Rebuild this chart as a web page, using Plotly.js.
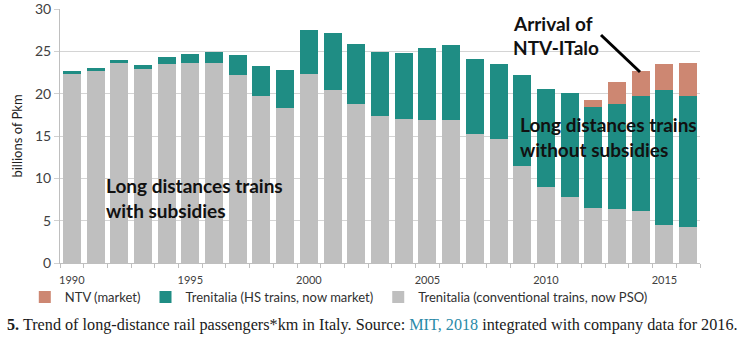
<!DOCTYPE html>
<html>
<head>
<meta charset="utf-8">
<script src="https://cdn.plot.ly/plotly-3.0.1.min.js"></script>
<style>html,body{margin:0;padding:0;background:#fff;}#chart{width:750px;height:350px;}</style>
</head>
<body>
<div id="chart"></div>
<script>
const years = [1990,1991,1992,1993,1994,1995,1996,1997,1998,1999,2000,2001,2002,2003,2004,2005,2006,2007,2008,2009,2010,2011,2012,2013,2014,2015,2016];
const conventional = [22.4,22.7,23.6,22.9,23.5,23.6,23.7,22.2,19.7,18.3,22.4,20.5,18.8,17.4,17.0,16.9,16.9,15.3,14.7,11.5,9.0,7.8,6.5,6.4,6.2,4.5,4.2];
const totalTrenitalia = [22.7,23.1,24.0,23.4,24.3,24.7,25.0,24.6,23.3,22.8,27.5,27.2,25.9,24.9,24.8,25.4,25.8,24.1,23.5,22.2,20.6,20.1,18.4,18.8,19.8,20.4,19.8];
const totalAll = [null,null,null,null,null,null,null,null,null,null,null,null,null,null,null,null,null,null,null,null,null,null,19.3,21.4,22.7,23.5,23.6];
const hsTrains = totalTrenitalia.map((t,i)=>+(t-conventional[i]).toFixed(2));
const ntv = totalAll.map((t,i)=> t===null ? 0 : +(t-totalTrenitalia[i]).toFixed(2));
const yTicks = [0,5,10,15,20,25,30];
const xLabelYears = [1990,1995,2000,2005,2010,2015];
const seriesNames = ['Trenitalia (conventional trains, now PSO)','Trenitalia (HS trains, now market)','NTV (market)'];

const font = 'Lato, "Open Sans", sans-serif';
const traces = [
  {type:'bar', x:years, y:conventional, name:seriesNames[0], marker:{color:'#bfbfbf'}},
  {type:'bar', x:years, y:hsTrains, name:seriesNames[1], marker:{color:'#1f8d84'}},
  {type:'bar', x:years, y:ntv, name:seriesNames[2], marker:{color:'#cd8772'}}
];
const bold = (s)=>'<b>'+s+'</b>';
const M = {l:60, r:50, t:9, b:87};
const PW = 750 - M.l - M.r, PH = 350 - M.t - M.b;
const layout = {
  width:750, height:350,
  margin:M,
  barmode:'stack', bargap:0.24,
  paper_bgcolor:'#fff', plot_bgcolor:'#fff',
  font:{family:font, color:'#404040'},
  xaxis:{
    range:[1989.5, 2016.5], tickmode:'array', tickvals:xLabelYears, ticktext:xLabelYears.map(String),
    ticks:'', showgrid:false, zeroline:false, showline:true, linecolor:'#bfbfbf', linewidth:1,
    tickfont:{size:11, color:'#404040'}, ticklabelstandoff:7,
    minor:{ticks:'outside', tick0:1989.5, dtick:1, ticklen:4, tickcolor:'#bfbfbf', showgrid:false}
  },
  yaxis:{
    range:[0,30.03], tickvals:yTicks, ticks:'outside', ticklen:5, tickcolor:'#d0d0d0',
    showgrid:true, gridcolor:'#d4d4d4', gridwidth:1, zeroline:false, showline:true, linecolor:'#bfbfbf',
    tickfont:{size:14, color:'#404040'}, ticklabeloverflow:'allow',
    title:{text:'billions of Pkm', font:{size:13, color:'#202020'}, standoff:9}
  },
  legend:{orientation:'h', x:-0.055, xanchor:'left', y:-0.075, yanchor:'top', traceorder:'reversed',
    bgcolor:'rgba(0,0,0,0)', font:{size:13, color:'#303030'}, itemwidth:30, tracegroupgap:0},
  annotations:[
    {xref:'paper', yref:'paper', x:104/750, y:1-185/350, xanchor:'left', yanchor:'middle', showarrow:false,
     text:bold('Long distances trains'), font:{size:19, color:'#111'}},
    {xref:'paper', yref:'paper', x:104/750, y:1-210/350, xanchor:'left', yanchor:'middle', showarrow:false,
     text:bold('with subsidies'), font:{size:19, color:'#111'}},
    {xref:'paper', yref:'paper', x:518/750, y:1-124/350, xanchor:'left', yanchor:'middle', showarrow:false,
     text:bold('Long distances trains'), font:{size:19, color:'#111'}},
    {xref:'paper', yref:'paper', x:518/750, y:1-149/350, xanchor:'left', yanchor:'middle', showarrow:false,
     text:bold('without subsidies'), font:{size:19, color:'#111'}},
    {xref:'paper', yref:'paper', x:511/750, y:1-23/350, xanchor:'left', yanchor:'middle', showarrow:false,
     text:bold('Arrival of'), font:{size:19, color:'#111'}},
    {xref:'paper', yref:'paper', x:511/750, y:1-48/350, xanchor:'left', yanchor:'middle', showarrow:false,
     text:bold('NTV-ITalo'), font:{size:19, color:'#111'}},
    {xref:'paper', yref:'paper', x:5/750, y:1-325/350, xanchor:'left', yanchor:'middle', showarrow:false,
     text:'<b>5.</b> Trend of long-distance rail passengers*km in Italy. Source: <span style="color:#2a8aa8">MIT, 2018</span> integrated with company data for 2016.',
     font:{size:16.2, family:'"Liberation Serif", "DejaVu Serif", serif', color:'#1a1a1a'}}
  ],
  shapes:[
    {type:'line', xref:'paper', yref:'paper', x0:601/750, y0:1-35/350, x1:640/750, y1:1-72/350,
     line:{color:'#000', width:3}}
  ]
};
layout.annotations.forEach(a=>{ if(a.xref==='paper'){ a.x=(a.x*750-M.l)/PW; a.y=(a.y*350-M.b)/PH; }});
layout.shapes.forEach(s=>{ s.x0=(s.x0*750-M.l)/PW; s.x1=(s.x1*750-M.l)/PW; s.y0=(s.y0*350-M.b)/PH; s.y1=(s.y1*350-M.b)/PH; });
Plotly.newPlot('chart', traces, layout, {displayModeBar:false, staticPlot:true});
</script>
</body>
</html>
